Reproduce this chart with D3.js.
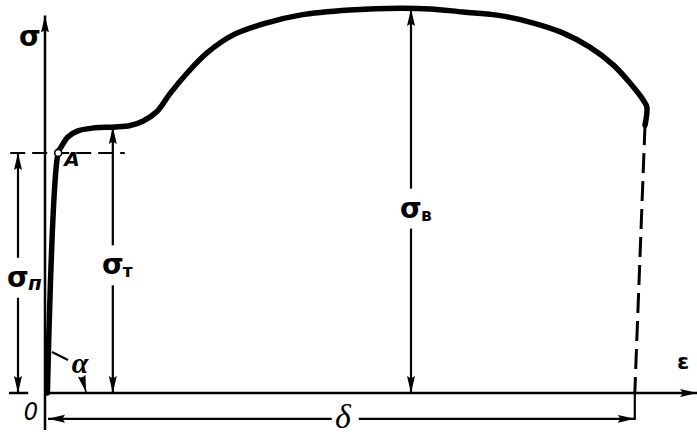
<!DOCTYPE html>
<html>
<head>
<meta charset="utf-8">
<script src="https://cdn.jsdelivr.net/npm/d3@7"></script>
<style>
	body { margin: 0; background: #fff; }
	text { fill: #000; }
</style>
</head>
<body>
<div id="chart"></div>
<script>
// tensile test diagram: strain (% of elongation at break) vs stress (% of ultimate)
const strain = [0.4, 2.2, 2.8, 3.8, 5.5, 8.3, 11.7, 14.2, 16.3, 18.7, 20.8, 23.7, 27.0, 31.3, 37.0, 42.5, 50.8, 59.2, 64.2, 69.7, 75.3, 80.8, 86.3, 90.8, 94.7, 97.5, 99.7, 100.3, 100.0];
const stress = [0, 62.2, 64.0, 66.3, 67.9, 68.7, 68.9, 69.3, 70.4, 73.0, 77.5, 82.9, 88.1, 92.7, 95.9, 97.9, 99.2, 99.7, 99.5, 98.7, 97.9, 96.1, 93.3, 89.6, 85.0, 80.3, 75.9, 74.1, 69.4];

// fracture (dashed part)
const fractureStrain = [100.0, 98.3];
const fractureStress = [69.4, 0];

// characteristic stresses: proportional limit, yield, ultimate
const limitName = ["п", "т", "в"];
const limitStrain = [-4.5, 11.3, 61.0];
const limitStress = [62.2, 68.9, 99.5];

// proportional limit point A and elongation at break
const pointA = [2.2, 62.2];
const elongation = 98.3;

var margin = { top: 7, left: 45 },
	width = 600,
	height = 386;

var x = d3.scaleLinear().domain([0, 100]).range([margin.left, margin.left + width]);
var y = d3.scaleLinear().domain([0, 100]).range([margin.top + height, margin.top]);

var svg = d3
	.select("#chart")
	.append("svg")
	.attr("width", 697)
	.attr("height", 434);

// arrow head
svg
	.append("defs")
	.append("marker")
	.attr("id", "arrow")
	.attr("viewBox", "0 0 17 9")
	.attr("refX", 17)
	.attr("refY", 4.5)
	.attr("markerWidth", 17)
	.attr("markerHeight", 9)
	.attr("markerUnits", "userSpaceOnUse")
	.attr("orient", "auto-start-reverse")
	.append("path")
	.attr("d", "M0,0.5 L17,4.5 L0,8.5 L2.5,4.5 Z")
	.attr("fill", "#000");

function line(g, x1, y1, x2, y2, w) {
	return g
		.append("line")
		.attr("x1", x1)
		.attr("y1", y1)
		.attr("x2", x2)
		.attr("y2", y2)
		.attr("stroke", "#000")
		.attr("stroke-width", w);
}

// Axes
line(svg, x(0), y(-9.6), x(0), y(97.8), 2.5).attr("marker-end", "url(#arrow)");
line(svg, x(0), y(0), x(108.7), y(0), 2.5).attr("marker-end", "url(#arrow)");
line(svg, x(-6), y(0), x(-2.8), y(0), 2.5);

svg.append("text").attr("x", 30).attr("y", 46)
	.attr("text-anchor", "middle")
	.style("font", "bold 28px 'DejaVu Sans'")
	.text("σ");
svg.append("text").attr("x", 683).attr("y", 369)
	.attr("text-anchor", "middle")
	.style("font", "bold 22px 'DejaVu Sans'")
	.text("ε");
svg.append("text").attr("x", 31).attr("y", 420)
	.attr("text-anchor", "middle")
	.style("font", "italic 25px 'DejaVu Sans Condensed'")
	.text("0");

// dashed level of point A
line(svg, x(-5.8), y(pointA[1]), x(13.3), y(pointA[1]), 2).attr("stroke-dasharray", "15,7");

// curve
var curve = d3
	.line()
	.x(function (d) { return x(d[0]); })
	.y(function (d) { return y(d[1]); })
	.curve(d3.curveCatmullRom.alpha(0.5));

svg
	.append("path")
	.datum(d3.zip(strain, stress))
	.attr("d", curve)
	.attr("fill", "none")
	.attr("stroke", "#000")
	.attr("stroke-width", 5.5)
	.attr("stroke-linejoin", "round")
	.attr("stroke-linecap", "round");

svg
	.append("path")
	.datum(d3.zip(fractureStrain, fractureStress))
	.attr("d", d3.line().x(function (d) { return x(d[0]); }).y(function (d) { return y(d[1]); }))
	.attr("fill", "none")
	.attr("stroke", "#000")
	.attr("stroke-width", 3)
	.attr("stroke-dasharray", "20,8");

// point A
svg.append("circle")
	.attr("cx", x(pointA[0]))
	.attr("cy", y(pointA[1]))
	.attr("r", 3.5)
	.attr("fill", "#fff")
	.attr("stroke", "#000")
	.attr("stroke-width", 1.6);
svg.append("text").attr("x", 72).attr("y", 166)
	.attr("text-anchor", "middle")
	.style("font", "italic bold 20px 'DejaVu Sans'")
	.text("A");

// stress dimensions
var gap = 20;
limitName.forEach(function (name, i) {
	var px = x(limitStrain[i]);
	var mid = y(limitStress[i] * 0.48);
	line(svg, px, mid - gap, px, y(limitStress[i]), 2.2).attr("marker-end", "url(#arrow)");
	line(svg, px, mid + gap, px, y(0), 2.2).attr("marker-end", "url(#arrow)");
	svg.append("text").attr("x", px).attr("y", mid + 9)
		.attr("text-anchor", "middle")
		.style("font", "bold 28px 'DejaVu Sans'")
		.text("σ");
	svg.append("text").attr("x", px + 10).attr("y", mid + 12)
		.style("font", i === 0 ? "italic bold 20px 'DejaVu Sans'" : "bold 17px 'DejaVu Sans'")
		.text(name);
});

// elongation
var dy = y(-6.7);
line(svg, x(elongation), y(0), x(elongation), dy + 1, 2.2);
line(svg, x(47.8), dy, x(0.5), dy, 2.2).attr("marker-end", "url(#arrow)");
line(svg, x(52.3), dy, x(elongation), dy, 2.2).attr("marker-end", "url(#arrow)");
svg.append("text").attr("x", 343).attr("y", 428)
	.attr("text-anchor", "middle")
	.style("font", "italic 34px 'Liberation Serif'")
	.text("δ");

// slope angle alpha
line(svg, 52, 352, 68, 360, 2);
line(svg, 82, 377, 86, 392, 1.6).attr("marker-end", "url(#arrow)");
svg.append("text").attr("x", 80).attr("y", 373)
	.attr("text-anchor", "middle")
	.style("font", "italic bold 30px 'Liberation Serif'")
	.text("α");
</script>
</body>
</html>
